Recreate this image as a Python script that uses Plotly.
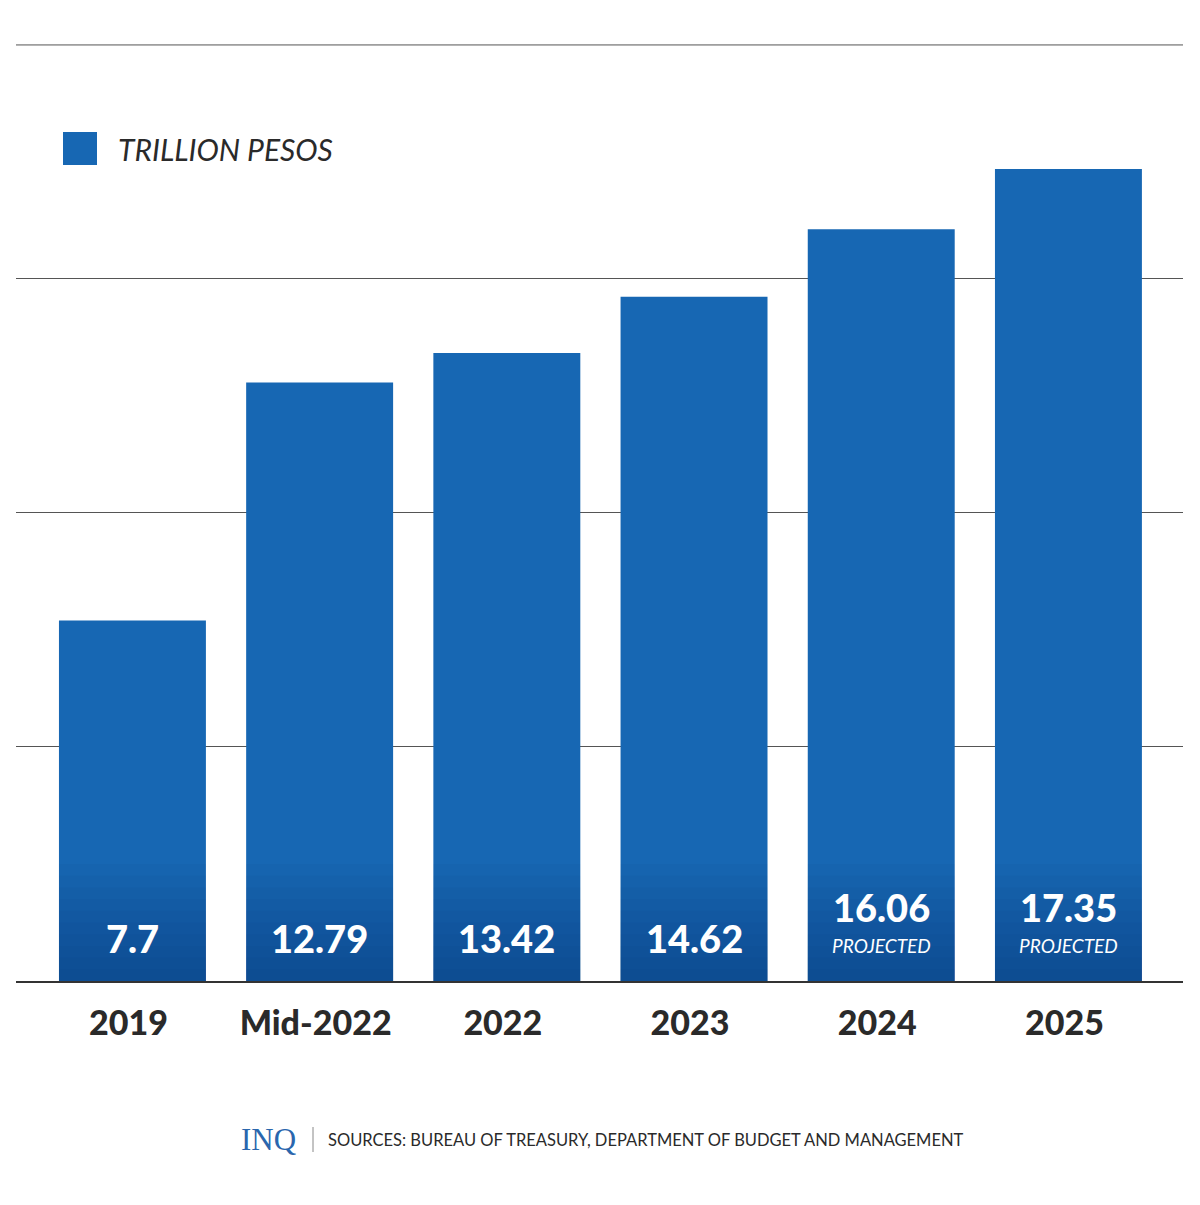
import plotly.graph_objects as go

categories = ["2019", "Mid-2022", "2022", "2023", "2024", "2025"]
values = [7.7, 12.79, 13.42, 14.62, 16.06, 17.35]
value_labels = ["7.7", "12.79", "13.42", "14.62", "16.06", "17.35"]
projected = [False, False, False, False, True, True]
grid_ticks = [5, 10, 15, 20]

BAR = "#1767b3"
OFF = 8  # page body margin
W, H = 1200 - OFF, 1205 - OFF
L, R, T, B = 16 - OFF, 17, 44 - OFF, 224
PW, PH = W - L - R, H - T - B


def px(x):
    return (x - OFF - L) / PW


def py(y):
    return (H - B - (y - OFF)) / PH


idx = list(range(len(categories)))

fig = go.Figure()
fig.add_trace(go.Bar(x=categories, y=values, marker=dict(color=BAR, line=dict(width=0)),
                     hoverinfo="skip", showlegend=False))
# subtle darkening toward the base of each bar
for k in range(1, 11):
    h = 0.25 * k
    fig.add_trace(go.Bar(x=categories, y=[min(h, v) for v in values],
                         marker=dict(color="rgba(6,35,90,0.035)", line=dict(width=0)),
                         hoverinfo="skip", showlegend=False))

for i, lab, p in zip(idx, value_labels, projected):
    fig.add_annotation(x=i, y=0, xref="x", yref="y", text=lab, showarrow=False,
                       yshift=74 if p else 43, yanchor="middle",
                       font=dict(family="Lato", size=38, color="white", weight=900))
    if p:
        fig.add_annotation(x=i, y=0, xref="x", yref="y", text="<i>PROJECTED</i>",
                           showarrow=False, yshift=36, yanchor="middle",
                           font=dict(family="Lato", size=19, color="white"))

# top gridline (at the range edge, drawn explicitly)
fig.add_shape(type="line", xref="paper", yref="y", x0=0, x1=1, y0=max(grid_ticks),
              y1=max(grid_ticks), line=dict(color="#555", width=1), layer="below")

# legend
fig.add_shape(type="rect", xref="paper", yref="paper", x0=px(63), x1=px(97),
              y0=py(165), y1=py(132), fillcolor=BAR, line=dict(width=0))
fig.add_annotation(xref="paper", yref="paper", x=px(116), y=py(149), xanchor="left",
                   yanchor="middle", text="<i>TRILLION PESOS</i>", showarrow=False,
                   font=dict(family="Lato", size=30, color="#2a2a2a"))

# footer
fig.add_annotation(xref="paper", yref="paper", x=px(268), y=py(1139), xanchor="center",
                   yanchor="middle", text="INQ", showarrow=False,
                   font=dict(family="Liberation Serif", size=31, color="#2a66ad"))
fig.add_shape(type="line", xref="paper", yref="paper", x0=px(313), x1=px(313),
              y0=py(1152), y1=py(1127), line=dict(color="#888", width=1))
fig.add_annotation(xref="paper", yref="paper", x=px(326), y=py(1140), xanchor="left",
                   yanchor="middle", text="SOURCES: BUREAU OF TREASURY, DEPARTMENT OF BUDGET AND MANAGEMENT",
                   showarrow=False, font=dict(family="Lato", size=16.5, color="#2a2a2a"))

fig.update_layout(
    width=W, height=H, barmode="overlay", bargap=0.215,
    margin=dict(l=L, r=R, t=T, b=B),
    paper_bgcolor="white", plot_bgcolor="white",
    xaxis=dict(type="category", range=[-0.622, 5.612], showgrid=False, showline=True,
               linecolor="#333", linewidth=1.5, ticks="outside", ticklen=11,
               tickcolor="rgba(0,0,0,0)", ticklabelshift=-4,
               tickfont=dict(family="Lato", size=34, color="#2a2a2a", weight=900),
               fixedrange=True),
    yaxis=dict(range=[0, 20.02], tickvals=grid_ticks, showticklabels=False, showgrid=True,
               gridcolor="#555", gridwidth=1, zeroline=False, showline=False, fixedrange=True),
)

fig.write_html("out.html")
